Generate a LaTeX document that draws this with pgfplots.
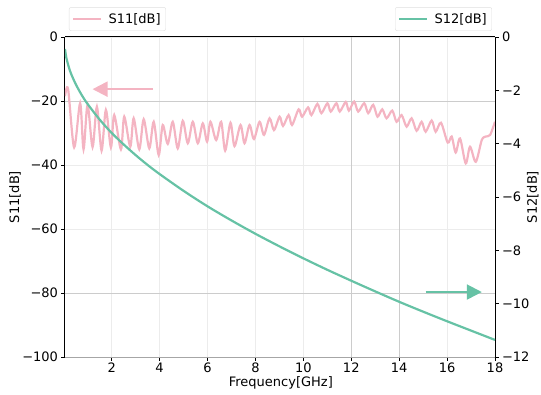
\documentclass[border=0pt]{standalone}
\usepackage{fontspec}
\setmainfont{DejaVu Sans}
\usepackage{pgfplots}
\pgfplotsset{compat=1.18}
\usetikzlibrary{arrows.meta}
\definecolor{spink}{RGB}{244,180,194}
\definecolor{sgreen}{RGB}{102,194,165}
\newcommand{\fs}{\fontsize{13}{15}\selectfont}
\begin{document}
\begin{tikzpicture}[font=\fs]
\useasboundingbox (-65pt,-37pt) rectangle (476pt,357pt);
\pgfplotsset{
  common/.style={
    scale only axis, width=430pt, height=320pt,
    xmin=0.05, xmax=18,
    tick align=outside, major tick length=3.5pt,
    tick style={black, line width=0.8pt},
    tick label style={font=\fs},
    label style={font=\fs},
    legend style={font=\fs, draw=gray!25, rounded corners=2pt, fill=white,
      inner xsep=3pt, inner ysep=4pt, nodes={inner sep=2pt}, column sep=4pt},
    legend cell align=left,
    legend image code/.code={\draw[##1,line width=2.4pt] (0pt,0pt) -- (28pt,0pt);},
  }
}
\begin{axis}[common,
  axis x line*=bottom, axis y line*=left,
  x axis line style={gray!70, line width=1pt},
  y axis line style={black, line width=1pt},
  ymin=-100, ymax=0,
  xtick={2,4,6,8,10,12,14,16,18},
  xticklabels={2,4,6,8,10,12,14,16,18},
  x tick label style={yshift=1pt},
  ytick={-100,-80,-60,-40,-20,0},
  yticklabels={−100,−80,−60,−40,−20,0},
  grid=major, grid style={gray!15, line width=0.8pt},
  extra x ticks={12,14}, extra x tick labels={},
  extra y ticks={-20,-80}, extra y tick labels={},
  extra tick style={grid style={gray!40, line width=0.8pt}, major tick length=0pt},
  xlabel={Frequency[GHz]},
  ylabel={S11[dB]},
  xlabel style={at={(axis description cs:0.502,-0.08)}, anchor=center},
  ylabel style={at={(axis description cs:-0.116,0.5)}, anchor=center},
  legend style={at={(axis description cs:0.0093,1.019)}, anchor=south west},
]
\addplot[spink, line width=2.2pt, smooth, tension=0.5] coordinates {
(0.05,-18.5) (0.18,-16.3) (0.431,-34.5) (0.682,-20.7) (0.824,-35.1) (0.992,-21.2)
(1.201,-34.4) (1.381,-21.8) (1.577,-35.5) (1.757,-22.8) (1.967,-34.5) (2.105,-24.4)
(2.385,-35.1) (2.523,-24.9) (2.774,-34.3) (2.916,-25.4) (3.151,-35.1) (3.335,-25.7)
(3.569,-34.8) (3.753,-26.5) (3.962,-36.9) (4.130,-27.5) (4.339,-33.4) (4.548,-26.5)
(4.757,-34.8) (4.967,-26.2) (5.176,-33.2) (5.385,-26.5) (5.594,-33.2) (5.803,-27.0)
(5.98,-32.7) (6.121,-26.5) (6.36,-32.2) (6.569,-26.5) (6.736,-35.5) (6.958,-26.8)
(7.126,-34.1) (7.377,-27.5) (7.544,-33.2) (7.753,-27.5) (7.937,-31.9) (8.172,-26.5)
(8.356,-30.6) (8.590,-25.4) (8.774,-29.1) (9.008,-24.9) (9.151,-27.8) (9.385,-24.4)
(9.527,-27.5) (9.803,-22.6) (9.946,-24.9) (10.197,-22.0) (10.335,-24.4) (10.586,-20.9)
(10.753,-23.8) (11.004,-20.7) (11.142,-23.3) (11.381,-20.7) (11.519,-23.3) (11.77,-20.3)
(11.90,-23.0) (12.121,-20.2) (12.289,-23.3) (12.540,-20.7) (12.707,-23.8) (12.916,-21.2)
(13.096,-24.9) (13.293,-22.6) (13.473,-25.4) (13.711,-23.0) (13.891,-26.5) (14.100,-24.4)
(14.310,-28.0) (14.519,-25.4) (14.728,-29.3) (14.937,-26.5) (15.105,-29.6) (15.356,-26.1)
(15.523,-29.6) (15.745,-26.8) (16.025,-33.0) (16.192,-31.1) (16.360,-36.1) (16.540,-31.7)
(16.778,-39.5) (16.958,-34.3) (17.197,-39.0) (17.448,-32.2) (17.615,-31.1) (17.795,-30.6)
(18.0,-26.5)
};
\addlegendentry{S11[dB]}
\draw[spink, line width=2pt, -{Triangle[length=15pt,width=15pt]}] (axis cs:3.72,-16.3) -- (axis cs:1.20,-16.3);
\draw[sgreen, line width=2pt, -{Triangle[length=15pt,width=15pt]}] (axis cs:15.10,-79.7) -- (axis cs:17.45,-79.7);
\end{axis}
\begin{axis}[common,
  axis x line*=top, axis y line*=right,
  axis line style={black, line width=1pt},
  xtick=\empty,
  ymin=-12, ymax=0,
  ytick={-12,-10,-8,-6,-4,-2,0},
  yticklabels={−12,−10,−8,−6,−4,−2,0},
  ylabel={S12[dB]},
  ylabel style={at={(axis description cs:1.088,0.5)}, anchor=center},
  legend style={at={(axis description cs:0.993,1.019)}, anchor=south east},
]
\addplot[sgreen, line width=2.2pt, smooth] coordinates {
(0.05,-0.45) (0.1,-0.75) (0.2,-1.1) (0.3,-1.37) (0.5,-1.77) (0.75,-2.18) (1,-2.52)
(1.5,-3.10) (2,-3.60) (2.5,-4.03) (3,-4.43) (3.5,-4.80) (4,-5.14) (5,-5.77) (6,-6.35)
(7,-6.88) (8,-7.38) (9,-7.85) (10,-8.30) (11,-8.73) (12,-9.14) (13,-9.54) (14,-9.93)
(15,-10.30) (16,-10.66) (17,-11.01) (18,-11.36)
};
\addlegendentry{S12[dB]}
\end{axis}
\end{tikzpicture}
\end{document}
